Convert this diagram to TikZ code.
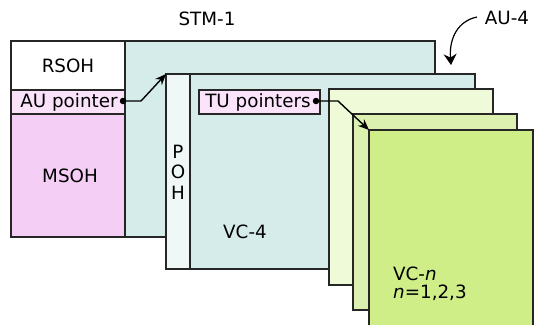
\documentclass[tikz,border=0pt]{standalone}
\usepackage{fontspec}
\setmainfont{DejaVu Sans}
\usetikzlibrary{arrows.meta}
\definecolor{teal1}{HTML}{D6ECEA}
\definecolor{pohc}{HTML}{EFF8F7}
\definecolor{aupink}{HTML}{FAE2FA}
\definecolor{mspink}{HTML}{F5CEF5}
\definecolor{tupink}{HTML}{FBE4FB}
\definecolor{vcone}{HTML}{EFFAD8}
\definecolor{vctwo}{HTML}{DCF0B0}
\definecolor{vcthree}{HTML}{CFEE88}
\tikzset{
  frame/.style={draw=black!85, line width=1.4pt, inner sep=0pt, outer sep=0pt, anchor=north west},
  lbl/.style={font=\fontsize{18.3}{21}\selectfont, inner sep=0pt},
  ptr/.style={line width=1.4pt, -{Stealth[length=11pt,width=9pt]}},
  dotc/.style={circle, fill=black, inner sep=0pt, minimum size=6.5pt}
}
\begin{document}
\begin{tikzpicture}[x=1pt,y=-1pt]
\useasboundingbox (0,0) rectangle (535,324);
\clip (0,0) rectangle (535,324);
% STM-1 frame
\node[frame, fill=teal1, minimum width=424pt, minimum height=196pt] (stm) at (11,41) {};
\node[frame, fill=white, minimum width=114pt, minimum height=49pt] (rsoh) at (11,41) {};
\node[frame, fill=aupink, minimum width=114pt, minimum height=24pt] (aup) at (11,90) {};
\node[frame, fill=mspink, minimum width=114pt, minimum height=123pt] (msoh) at (11,114) {};
\node[lbl] (rsohl) at (68,66) {RSOH};
\node[lbl] (aupl) at (69,102) {AU pointer};
\node[lbl] (msohl) at (70,176) {MSOH};
\node[lbl] (stml) at (207,19) {STM-1};
% VC-4
\node[frame, fill=teal1, minimum width=309pt, minimum height=195pt] (vc4) at (166,74) {};
\node[frame, fill=pohc, minimum width=24pt, minimum height=195pt] (poh) at (166,74) {};
\node[lbl, align=center, font=\fontsize{18.3}{20.5}\selectfont] (pohl) at (178,172) {P\\O\\H};
\node[lbl] (vc4l) at (245,232) {VC-4};
\node[frame, fill=tupink, minimum width=121pt, minimum height=24pt] (tup) at (199,90) {};
\node[lbl] (tupl) at (258,102) {TU pointers};
% VC-n frames
\node[frame, fill=vcone, minimum width=164pt, minimum height=196pt] (vcn1) at (329,89) {};
\node[frame, fill=vctwo, minimum width=164pt, minimum height=196pt] (vcn2) at (353,114) {};
\node[frame, fill=vcthree, minimum width=164pt, minimum height=200pt] (vcn3) at (369,130) {};
\node[lbl, align=left, anchor=west] (vcnl) at (393,284) {VC-\textit{n}\\[-3pt]\textit{n}=1,2,3};
% AU pointer connector
\node[dotc] (audot) at (123,101) {};
\coordinate (aubend) at (141,101);
\draw[ptr] (audot.center) -- (aubend) -- (vc4.north west);
% TU pointer connector
\node[dotc] (tudot) at (316,101) {};
\coordinate (tubend) at (338,101);
\draw[ptr] (tudot.center) -- (tubend) -- (vcn3.north west);
% AU-4 label and arrow
\node[lbl] (au4l) at (507,18) {AU-4};
\coordinate (au4s) at (477,17);
\coordinate (au4t) at (451,65);
\draw[line width=1.2pt, -{Stealth[length=11pt,width=13pt]}] (au4s) .. controls (458,21) and (449,38) .. (au4t);
\end{tikzpicture}
\end{document}
